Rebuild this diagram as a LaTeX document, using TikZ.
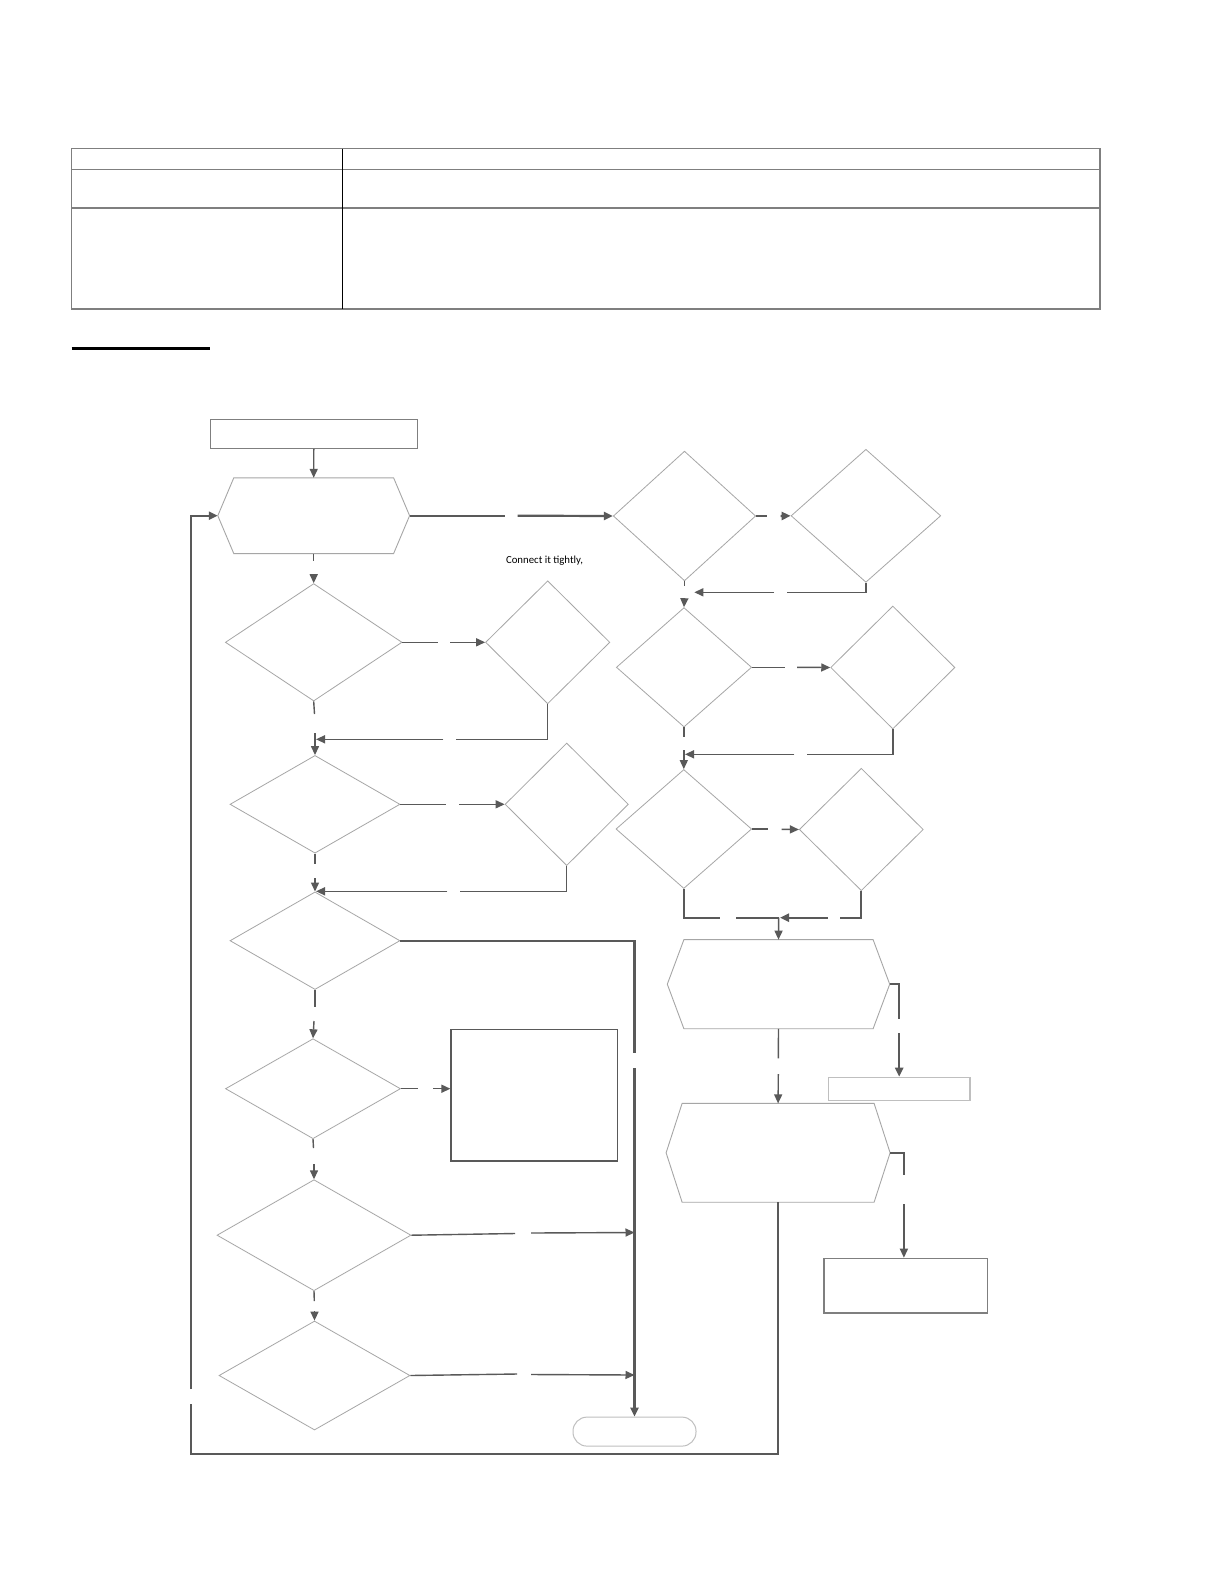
\documentclass[tikz,border=0pt]{standalone}
\usepackage{fontspec}
\setmainfont{Carlito}
\usetikzlibrary{arrows.meta,shapes.geometric,calc}
\definecolor{cline}{HTML}{595959}
\definecolor{dline}{HTML}{A6A6A6}
\definecolor{bline}{HTML}{7F7F7F}
\definecolor{lline}{HTML}{BFBFBF}
\begin{document}
\begin{tikzpicture}[x=0.5pt,y=-0.5pt,
  >={Triangle[length=4.5pt,width=4pt]},
  conn/.style={draw=cline,line width=0.7pt},
  tconn/.style={draw=cline,line width=1.1pt},
  dia/.style={diamond,draw=dline,line width=0.4pt,inner sep=0pt,aspect=1},
  hexbox/.style={draw=none,inner sep=0pt},
  hexline/.style={draw=dline,line width=0.45pt},
  boxn/.style={draw=bline,line width=0.6pt,inner sep=0pt},
  wd/.style={minimum width={#1*0.5pt}},
  ht/.style={minimum height={#1*0.5pt}}]
\newcommand{\hexa}[2]{\draw[hexline] ($(#1.north west)+(#2,0)$) -- ($(#1.north east)+(-#2,0)$) -- (#1.east) -- ($(#1.south east)+(-#2,0)$) -- ($(#1.south west)+(#2,0)$) -- (#1.west) -- cycle;}
\useasboundingbox[fill=white] (0,0) rectangle (1224,1584);

% header table
\draw[bline,line width=0.7pt] (71.7,148.5) rectangle (1099.8,309);
\draw[bline,line width=0.7pt] (71.7,169.7) -- (1099.8,169.7) (71.7,208) -- (1099.8,208);
\draw[black,line width=0.6pt] (342.4,148.5) -- (342.4,309);
\draw[black,line width=1.2pt] (71.7,348.4) -- (210,348.4);

% nodes
\node[boxn,wd=207,ht=29] (start) at (313.8,433.8) {};
\node[hexbox,wd=191,ht=75] (h1) at (313.7,515.7) {}; \hexa{h1}{16}
\node[dia,wd=176.7,ht=117.4] (l1) at (313.7,642.3) {};
\node[dia,wd=124.3,ht=123] (s1) at (547.7,642.3) {};
\node[dia,wd=170,ht=97.7] (l2) at (315,804.3) {};
\node[dia,wd=123.3,ht=122.6] (s2) at (566.7,804.3) {};
\node[dia,wd=170,ht=97.6] (l3) at (315,940.7) {};
\node[dia,wd=175,ht=100] (l4) at (313,1088.7) {};
\node[boxn,draw=cline,wd=166.7,ht=131.7] (box) at (534.35,1095.15) {};
\node[dia,wd=194,ht=111] (l5) at (314,1235.2) {};
\node[dia,wd=191,ht=109] (l6) at (314.5,1375.5) {};
\node[draw=lline,line width=0.5pt,rounded corners=7pt,inner sep=0pt,wd=123,ht=29] (endn) at (634.5,1431.6) {};

\node[dia,wd=142.4,ht=129.7] (r1) at (684.5,516) {};
\node[dia,wd=149.7,ht=133] (r2) at (865.9,515.8) {};
\node[dia,wd=135.3,ht=119.4] (r3) at (684,667.3) {};
\node[dia,wd=124.3,ht=123] (r4) at (892.8,667.5) {};
\node[dia,wd=135.7,ht=119] (r5) at (683.8,829) {};
\node[dia,wd=124,ht=122.4] (r6) at (861.3,829.5) {};
\node[hexbox,wd=221.6,ht=88.3] (h2) at (778.5,984.2) {}; \hexa{h2}{16.6}
\node[draw=lline,line width=0.6pt,inner sep=0pt,wd=141.7,ht=23.4] (rb) at (899.2,1089) {};
\node[hexbox,wd=223.2,ht=98] (h3) at (778.1,1152.8) {}; \hexa{h3}{16}
\node[boxn,wd=163.7,ht=54.6] (rc) at (905.9,1285.6) {};

\node[font=\fontsize{5.4pt}{6pt}\selectfont,inner sep=0pt] (note) at (544.5,560.7) {Connect it tightly,};

% connectors, left column
\draw[conn,->] (start.south) -- (h1.north);
\draw[tconn] (h1.east) -- (505,515.7) coordinate (g1);
\draw[tconn,->] (517.7,515.7) coordinate (g2) -- (r1.west);
\draw[conn] (h1.south) -- (313.7,561);
\draw[conn,->] (313.7,575) -- (l1.north);
\draw[conn] (l1.east) -- (437.7,642.3);
\draw[conn,->] (450,642.3) -- (s1.west);
\draw[conn] (l1.south) -- (314.5,714);
\draw[conn,->] (315,733) -- (l2.north);
\draw[conn] (s1.south) -- (547.7,739.3) -- (455.7,739.3);
\draw[conn,->] (443.3,739.3) -- (316,739.3);
\draw[conn] (l2.east) -- (446,804.3);
\draw[conn,->] (459.3,804.3) -- (s2.west);
\draw[conn] (s2.south) -- (566.7,891.3) -- (460,891.3);
\draw[conn,->] (447.3,891.3) -- (316,891.3);
\draw[conn] (l2.south) -- (315,864.3);
\draw[conn,->] (315,878) -- (l3.north);
\draw[tconn] (l3.east) -- (634.5,940.7) -- (634.5,1053);
\draw[tconn,->] (634.5,1068) -- (endn.north);
\draw[conn] (l3.south) -- (315,1006.7);
\draw[conn,->] (314,1021) -- (l4.north);
\draw[conn] (l4.east) -- (418.3,1088.7);
\draw[conn,->] (433.3,1088.7) -- (box.west |- l4.east);
\draw[conn] (l4.south) -- (313.5,1148);
\draw[conn,->] (314,1164) -- (l5.north);
\draw[conn] (l5.east) -- (515,1233.5);
\draw[conn,->] (531,1233) -- (634.5,1232.5);
\draw[conn] (l5.south) -- (314.3,1301);
\draw[conn,->] (314.5,1311) -- (l6.north);
\draw[conn] (l6.east) -- (517,1374);
\draw[conn,->] (531,1374.5) -- (634.5,1375);
\draw[tconn] (h3.south) -- (778.1,1454.3) -- (190.9,1454.3) -- (190.9,1404);
\draw[tconn,->] (190.9,1389) -- (190.9,515.7) -- (h1.west);

% connectors, right column
\draw[tconn] (r1.east) -- (766.7,516);
\draw[tconn,->] (780.7,516) -- (r2.west);
\draw[conn] (r2.south) -- (865.9,592.3) -- (786.7,592.3);
\draw[conn,->] (774,592.3) -- (694.3,592.3);
\draw[conn] (r1.south) -- (684.5,586);
\draw[conn,->] (684.3,600) -- (r3.north);
\draw[conn] (r3.east) -- (785,667.3);
\draw[conn,->] (797,667.3) -- (r4.west);
\draw[conn] (r4.south) -- (892.8,754.3) -- (806.7,754.3);
\draw[conn,->] (794.3,754.3) -- (685,754.3);
\draw[conn] (r3.south) -- (684,737);
\draw[conn,->] (683.8,750) -- (r5.north);
\draw[conn] (r5.east) -- (768.3,829);
\draw[conn,->] (781.7,829.3) -- (r6.west);
\coordinate (jn) at (778.6,917.7);
\draw[tconn] (r5.south) -- (683.8,917.7) -- (720,917.7);
\draw[tconn] (736,917.7) -- (jn);
\draw[tconn] (r6.south) -- (861.3,917.7) -- (840,917.7);
\draw[tconn,->] (827.7,917.7) -- (780,917.7);
\draw[conn,->] (jn) -- (h2.north);
\draw[tconn] (h2.east) -- (899.2,984.2) -- (899.2,1019.3);
\draw[tconn,->] (899.2,1033.3) -- (rb.north);
\draw[conn] (h2.south) -- (778.3,1058.3);
\draw[conn,->] (778.3,1074) -- (h3.north);
\draw[conn] (h3.east) -- (903.9,1152.8) -- (903.9,1174.5);
\draw[conn,->] (903.9,1204) -- (rc.north -| 903.9,0);
\end{tikzpicture}
\end{document}
